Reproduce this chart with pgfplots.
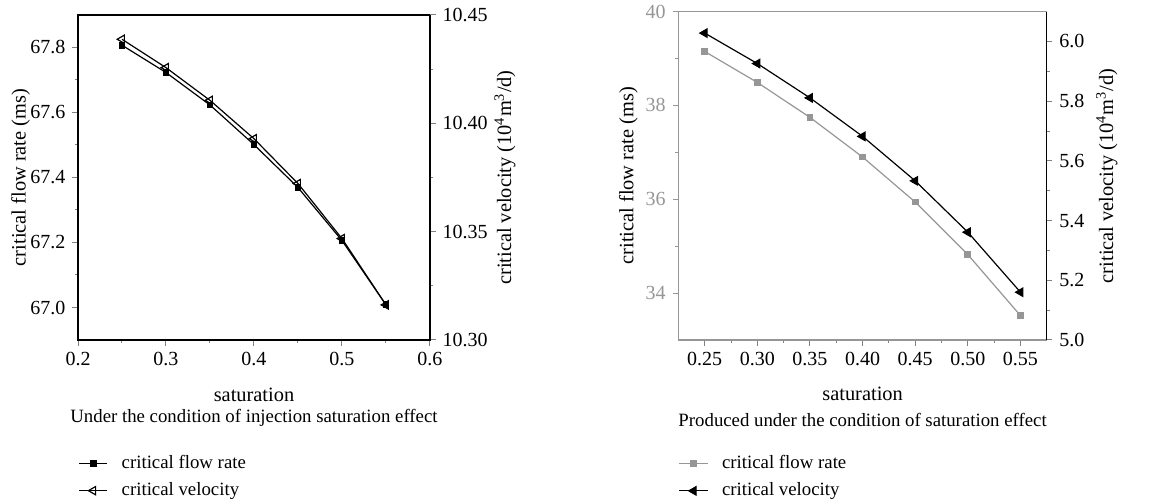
\documentclass[border=0pt]{standalone}
\usepackage{fontspec}
\setmainfont{Liberation Serif}
\usepackage{pgfplots}
\pgfplotsset{compat=1.18}
\definecolor{mygray}{RGB}{150,150,150}
\pgfplotsset{
  base/.style={
    scale only axis,
    tick align=outside,
    major tick length=2.8pt, minor tick length=1.6pt,
    every tick/.append style={line width=0.5pt},
    axis line style={line width=0.6pt},
    /pgf/number format/assume math mode=true,
    tick label style={font=\fontsize{10}{12}\selectfont},
    label style={font=\fontsize{10.2}{12}\selectfont},
    title style={font=\fontsize{9.4}{11}\selectfont},
    legend style={font=\fontsize{9.4}{11}\selectfont, draw=none, fill=none, inner sep=0pt,
      row sep=1.6pt, legend cell align=left},
    legend image code/.code={\path[draw=none,fill=none] (0cm,0cm) -- (0.68cm,0cm);\draw[mark repeat=2,mark phase=2] plot coordinates {(0cm,0cm) (0.25cm,0cm) (0.5cm,0cm)};},
  },
}
\begin{document}
\begin{tikzpicture}
\path[use as bounding box] (0,0) rectangle (584.5pt,251pt);
% ---------------- left plot ----------------
\begin{axis}[base, at={(39pt,81pt)}, anchor=south west, width=176pt, height=162.5pt,
  xmin=0.2, xmax=0.6, xtick={0.2,0.3,0.4,0.5,0.6}, minor x tick num=1,
  ymin=66.9, ymax=67.9, ytick={67.0,67.2,67.4,67.6,67.8}, minor y tick num=1,
  xtick pos=bottom, ytick pos=left,
  xticklabel style={/pgf/number format/.cd,fixed,fixed zerofill,precision=1},
  yticklabel style={/pgf/number format/.cd,fixed,fixed zerofill,precision=1},
  xlabel={saturation},
  xlabel style={at={(axis description cs:0.5,-0.169)}, anchor=center},
  ylabel={critical flow rate (ms)},
  ylabel style={at={(axis description cs:-0.163,0.5)}, anchor=center, rotate=0},
  title={Under the condition of injection saturation effect},
  title style={at={(axis description cs:0.5,-0.2781)}, anchor=center},
]
\addplot[black, line width=0.6pt, mark=square*, mark size=1.4pt] coordinates {
(0.25,67.807) (0.30,67.723) (0.35,67.623) (0.40,67.501) (0.45,67.369) (0.50,67.206) (0.55,67.008)};
\end{axis}
\begin{axis}[base, at={(39pt,81pt)}, anchor=south west, width=176pt, height=162.5pt,
  axis x line=none, axis y line*=right,
  xmin=0.2, xmax=0.6,
  ymin=10.30, ymax=10.45, ytick={10.30,10.35,10.40,10.45}, minor y tick num=1,
  yticklabel style={/pgf/number format/.cd,fixed,fixed zerofill,precision=2},
  ylabel={critical velocity (10\textsuperscript{4}m\textsuperscript{3}/d)},
  ylabel style={at={(axis description cs:1.213,0.5)}, anchor=center, rotate=0},
  legend style={at={(axis description cs:0,-0.341)}, anchor=north west},
]
\addlegendimage{black, line width=0.6pt, mark=square*, mark size=1.4pt}
\addlegendentry{critical flow rate}
\addplot[black, line width=0.6pt, mark=triangle, mark size=2.4pt, mark options={rotate=90, fill=white}] coordinates {
(0.25,10.4388) (0.30,10.4257) (0.35,10.4106) (0.40,10.3929) (0.45,10.3722) (0.50,10.3468) (0.55,10.3162)};
\addlegendentry{critical velocity}
\end{axis}
% ---------------- right plot ----------------
\begin{axis}[base, at={(339.2pt,81pt)}, anchor=south west, width=184.2pt, height=164.2pt,
  xmin=0.225, xmax=0.575, xtick={0.25,0.30,0.35,0.40,0.45,0.50,0.55}, minor x tick num=1,
  ymin=33, ymax=40, ytick={34,36,38,40}, minor y tick num=1,
  xtick pos=bottom, ytick pos=left,
  y axis line style={mygray},
  ytick style={mygray},
  yticklabel style={mygray},
  xticklabel style={/pgf/number format/.cd,fixed,fixed zerofill,precision=2},
  xlabel={saturation},
  xlabel style={at={(axis description cs:0.5,-0.1644)}, anchor=center},
  ylabel={critical flow rate (ms)},
  ylabel style={at={(axis description cs:-0.1357,0.5)}, anchor=center, rotate=0},
  title={Produced under the condition of saturation effect},
  title style={at={(axis description cs:0.5,-0.2801)}, anchor=center},
]
\addplot[mygray, line width=0.6pt, mark=square*, mark size=1.4pt] coordinates {
(0.25,39.15) (0.30,38.49) (0.35,37.745) (0.40,36.90) (0.45,35.94) (0.50,34.82) (0.55,33.52)};
\end{axis}
\begin{axis}[base, at={(339.2pt,81pt)}, anchor=south west, width=184.2pt, height=164.2pt,
  axis x line=none, axis y line*=right,
  xmin=0.225, xmax=0.575,
  ymin=5.0, ymax=6.1, ytick={5.0,5.2,5.4,5.6,5.8,6.0}, minor y tick num=1,
  yticklabel style={/pgf/number format/.cd,fixed,fixed zerofill,precision=1},
  ylabel={critical velocity (10\textsuperscript{4}m\textsuperscript{3}/d)},
  ylabel style={at={(axis description cs:1.163,0.5)}, anchor=center, rotate=0},
  legend style={at={(axis description cs:0,-0.338)}, anchor=north west},
]
\addlegendimage{mygray, line width=0.6pt, mark=square*, mark size=1.4pt}
\addlegendentry{critical flow rate}
\addplot[black, line width=0.6pt, mark=triangle*, mark size=2.4pt, mark options={rotate=90}] coordinates {
(0.25,6.028) (0.30,5.926) (0.35,5.811) (0.40,5.682) (0.45,5.533) (0.50,5.361) (0.55,5.160)};
\addlegendentry{critical velocity}
\end{axis}
\end{tikzpicture}
\end{document}
